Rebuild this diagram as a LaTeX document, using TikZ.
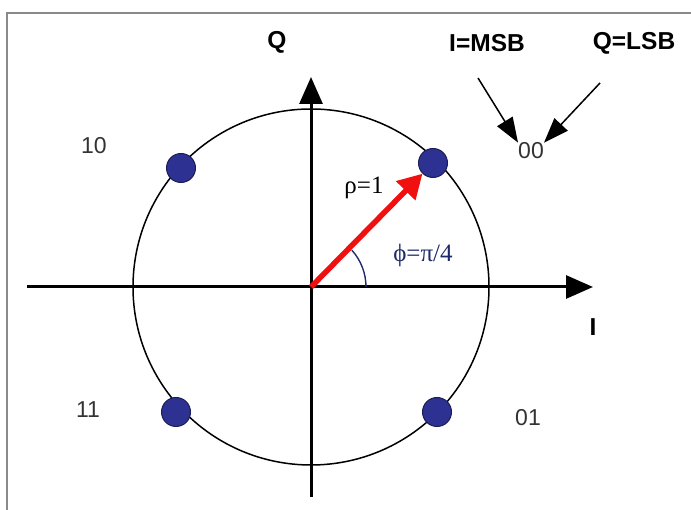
\documentclass[tikz,border=0pt]{standalone}
\usepackage{fontspec}
\setmainfont{Liberation Sans}
\newfontfamily\timesfont{Liberation Serif}
\usepackage{xcolor}
\usepackage{tikz}
\usetikzlibrary{arrows.meta}
\definecolor{DotBlue}{HTML}{2D3192}
\definecolor{DotEdge}{HTML}{1B1D55}
\definecolor{AngleNavy}{HTML}{1F2A6B}
\definecolor{FrameGray}{HTML}{8A8A8A}
\definecolor{VecRed}{HTML}{F01010}

\begin{document}
\begin{tikzpicture}[
  x=1pt, y=1pt,
  axis/.style={line width=3pt, -{Triangle[length=27pt, width=23pt]}},
  point/.style={circle, fill=DotBlue, draw=DotEdge, line width=1pt,
    minimum width=27pt, minimum height=29pt, inner sep=0pt},
  axlabel/.style={font=\bfseries\fontsize{24.5}{28}\selectfont, inner sep=0pt},
  bits/.style={font=\fontsize{23}{27}\selectfont, text=black!80, inner sep=0pt},
  pointer/.style={line width=1.5pt, -{Triangle[length=25pt, width=18pt]}},
  vector/.style={line width=5.5pt, draw=VecRed,
    -{Triangle[length=24pt, width=26pt, fill=VecRed]}},
  greek/.style={font=\timesfont\fontsize{25}{29}\selectfont, inner sep=0pt}
]
\useasboundingbox (0,0) rectangle (691,510);

% frame
\draw[FrameGray, line width=2pt] (7,0) -- (7,497) -- (691,497);

\coordinate (origin) at (311,223);
\coordinate (west) at (27,223);
\coordinate (east) at (593,223);
\coordinate (south) at (311,13);
\coordinate (north) at (311,433);

% unit circle and axes
\draw[line width=1.5pt] (origin) circle (178);
\draw[axis] (west) -- (east);
\draw[axis] (south) -- (north);

% angle
\draw[AngleNavy, line width=1.4pt] (origin) ++(55,0) arc (0:42:55);

\node[point] (p00) at (433,347) {};
\node[point] (p10) at (181,342) {};
\node[point] (p11) at (176,98) {};
\node[point] (p01) at (437,98) {};

\draw[vector] (origin) -- (p00);

\node[axlabel] (qlab) at (277,468) {Q};
\node[axlabel] (ilab) at (593,183) {I};
\node[axlabel] (msb) at (487,467) {I=MSB};
\node[axlabel] (lsb) at (634,467) {Q=LSB};

\node[bits] (b00) at (531,359) {00};
\node[bits] (b10) at (94,364) {10};
\node[bits] (b11) at (88,100) {11};
\node[bits] (b01) at (528,92) {01};

\node[greek] (rho) at (364,322) {ρ=1};
\node[greek, text=AngleNavy] (phi) at (423,255) {ϕ=π/4};

\coordinate (msbtail) at (478,432);
\coordinate (lsbtail) at (600,427);
\draw[pointer] (msbtail) -- (b00.north west);
\draw[pointer] (lsbtail) -- (b00.north east);
\end{tikzpicture}
\end{document}
